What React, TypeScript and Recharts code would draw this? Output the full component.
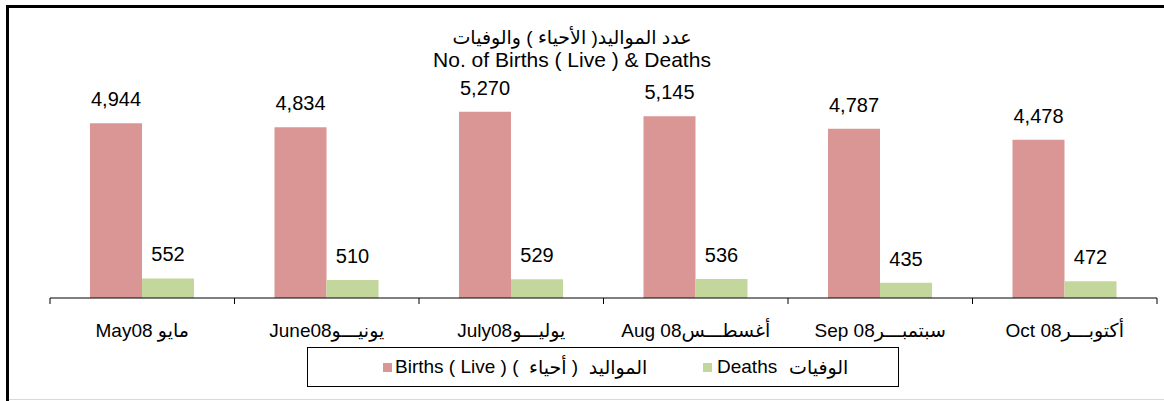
import { BarChart, Bar, XAxis, YAxis, LabelList } from 'recharts'

const months = ['May08 مايو', 'June08يونيـــو', 'July08يوليـــو', 'Aug 08أغسطـــس', 'Sep 08سبتمبـــر', 'Oct 08أكتوبـــر']
const births = [4944, 4834, 5270, 5145, 4787, 4478]
const deaths = [552, 510, 529, 536, 435, 472]

const data = months.map((month, i) => ({ month, births: births[i], deaths: deaths[i] }))

const FONT = '"Liberation Sans", Arial, "DejaVu Sans", sans-serif'
const W = 1164
const H = 401
// x axis takes 30px of its own under the plot
const margin = { top: 86, right: 7, bottom: 73, left: 50 }
const catWidth = (W - margin.left - margin.right) / months.length

const fmt = (v: any) => Number(v).toLocaleString('en-US')

function CategoryTick(props: any) {
  const { x, y, payload, index } = props
  const left = x - catWidth / 2
  const right = x + catWidth / 2
  return (
    <g>
      <line x1={left} y1={y} x2={left} y2={y + 6} stroke="#000" />
      {index === months.length - 1 && <line x1={right} y1={y} x2={right} y2={y + 6} stroke="#000" />}
      <text x={x} y={y + 39} textAnchor="middle" direction="ltr" fontSize={19} fill="#000" fontFamily={FONT}>
        {payload.value}
      </text>
    </g>
  )
}

export default function App() {
  return (
    <div style={{ position: 'relative', width: W, height: H, background: '#fff', fontFamily: FONT }}>
      <style>{'body{margin:0}'}</style>

      {/* frame */}
      <div style={{ position: 'absolute', left: 6, top: 5, width: W - 6, height: 3, background: '#000' }} />
      <div style={{ position: 'absolute', left: 6, top: 5, width: 3, height: H - 5, background: '#000' }} />
      <div style={{ position: 'absolute', left: 9, top: H - 2, width: W - 9, height: 1, background: '#d9d9d9' }} />

      {/* title */}
      <div style={{ position: 'absolute', left: 0, width: 1144, top: 27, textAlign: 'center', lineHeight: '22px', color: '#000' }}>
        <div dir="rtl" style={{ fontSize: 19 }}>عدد المواليد( الأحياء ) والوفيات</div>
        <div style={{ fontSize: 21 }}>No. of Births ( Live ) &amp; Deaths</div>
      </div>

      <div style={{ position: 'absolute', left: 0, top: 0 }}>
        <BarChart width={W} height={H} data={data} margin={margin} barGap={0} barSize={52}>
          <YAxis hide domain={[0, 6000]} />
          <XAxis
            dataKey="month"
            axisLine={{ stroke: '#000' }}
            tickLine={false}
            tickSize={0}
            tickMargin={0}
            interval={0}
            tick={<CategoryTick />}
          />
          <Bar dataKey="births" fill="#D99694" isAnimationActive={false}>
            <LabelList dataKey="births" position="top" offset={17} formatter={fmt} fill="#000" fontSize={20} fontFamily={FONT} />
          </Bar>
          <Bar dataKey="deaths" fill="#C3D69B" isAnimationActive={false}>
            <LabelList dataKey="deaths" position="top" offset={17} formatter={fmt} fill="#000" fontSize={20} fontFamily={FONT} />
          </Bar>
        </BarChart>
      </div>

      {/* legend */}
      <div
        style={{
          position: 'absolute', left: 307, top: 347, width: 592, height: 40, boxSizing: 'border-box',
          border: '1px solid #000', display: 'flex', alignItems: 'center', fontSize: 19, color: '#000', whiteSpace: 'pre',
        }}
      >
        <span style={{ display: 'inline-block', width: 9, height: 9, background: '#D99694', marginLeft: 75, marginRight: 3 }} />
        <span>Births ( Live ) (  </span>
        <span style={{ unicodeBidi: 'isolate' }}>أحياء</span>
        <span> )  </span>
        <span style={{ unicodeBidi: 'isolate' }}>المواليد</span>
        <span style={{ display: 'inline-block', width: 9, height: 9, background: '#C3D69B', position: 'absolute', left: 395 }} />
        <span style={{ position: 'absolute', left: 409 }}>Deaths</span>
        <span style={{ position: 'absolute', left: 481, unicodeBidi: 'isolate' }}>الوفيات</span>
      </div>
    </div>
  )
}
